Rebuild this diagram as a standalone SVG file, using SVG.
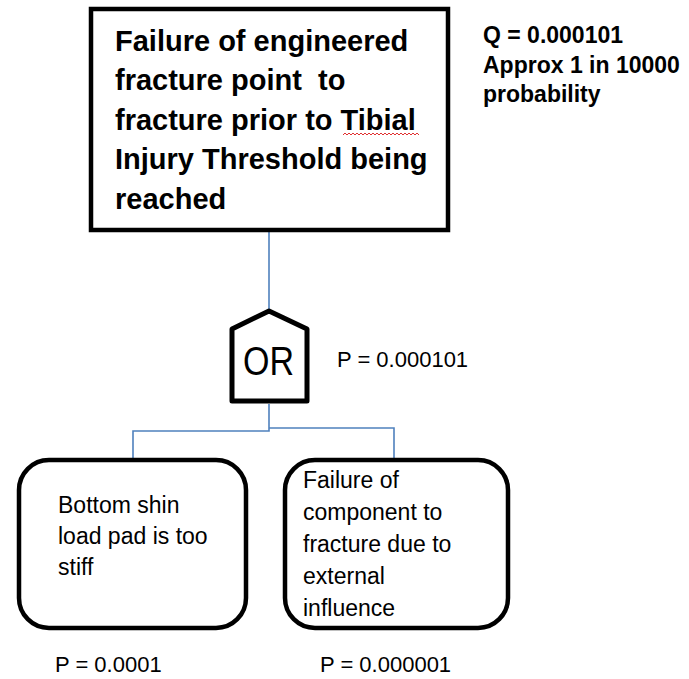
<svg xmlns="http://www.w3.org/2000/svg" width="689" height="679" viewBox="0 0 689 679">
<style>
  .box{fill:#fff;stroke:#000;stroke-width:4.5}
  .conn{fill:none;stroke:#4F81BD;stroke-width:1.6}
  .t{font-family:"Liberation Sans",Arial,sans-serif;fill:#000;white-space:pre}
  .b{font-weight:bold}
  .big{font-size:29px}
  .mid{font-size:23px}
  .lbl{font-size:22px}
</style>
<rect width="689" height="679" fill="#fff"/>
<g id="connectors">
  <path class="conn" d="M269,232 V311"/>
  <path class="conn" d="M269,404 V431 H133 V460"/>
  <path class="conn" d="M269,428 H394 V458"/>
</g>
<g id="top-event">
  <rect class="box" x="91" y="9" width="357" height="221"/>
  <text class="t b big" x="115" y="51">Failure of engineered</text>
  <text class="t b big" x="115" y="90">fracture point  to</text>
  <text class="t b big" x="115" y="130">fracture prior to Tibial</text>
  <text class="t b big" x="115" y="169">Injury Threshold being</text>
  <text class="t b big" x="115" y="209">reached</text>
  <path d="M343,135 l2,-2 l2,2 l2,-2 l2,2 l2,-2 l2,2 l2,-2 l2,2 l2,-2 l2,2 l2,-2 l2,2 l2,-2 l2,2 l2,-2 l2,2 l2,-2 l2,2 l2,-2 l2,2 l2,-2 l2,2 l2,-2 l2,2 l2,-2 l2,2 l2,-2 l2,2 l2,-2 l2,2 l2,-2 l2,2 l2,-2 l2,2 l2,-2 l2,2 l2,-2 l2,2" fill="none" stroke="#e03030" stroke-width="1"/>
</g>
<g id="top-probability">
  <text class="t b mid" x="483" y="43">Q = 0.000101</text>
  <text class="t b mid" x="483" y="73">Approx 1 in 10000</text>
  <text class="t b mid" x="483" y="102">probability</text>
</g>
<g id="or-gate">
  <path d="M269,311 L307,329 L307,401 L232,401 L232,329 Z" fill="#fff" stroke="#000" stroke-width="5" stroke-linejoin="round"/>
  <text class="t" x="243" y="375" font-size="40" textLength="51" lengthAdjust="spacingAndGlyphs">OR</text>
  <text class="t lbl" x="337" y="367">P = 0.000101</text>
</g>
<g id="event-pad">
  <rect class="box" x="19" y="460" width="227" height="168" rx="30" ry="30"/>
  <text class="t mid" x="58" y="513">Bottom shin</text>
  <text class="t mid" x="58" y="544">load pad is too</text>
  <text class="t mid" x="58" y="575">stiff</text>
  <text class="t lbl" x="55" y="672">P = 0.0001</text>
</g>
<g id="event-component">
  <rect class="box" x="285" y="460" width="223" height="168" rx="30" ry="30"/>
  <text class="t mid" x="303" y="488">Failure of</text>
  <text class="t mid" x="303" y="520">component to</text>
  <text class="t mid" x="303" y="552">fracture due to</text>
  <text class="t mid" x="303" y="584">external</text>
  <text class="t mid" x="303" y="616">influence</text>
  <text class="t lbl" x="320" y="672">P = 0.000001</text>
</g>
</svg>
